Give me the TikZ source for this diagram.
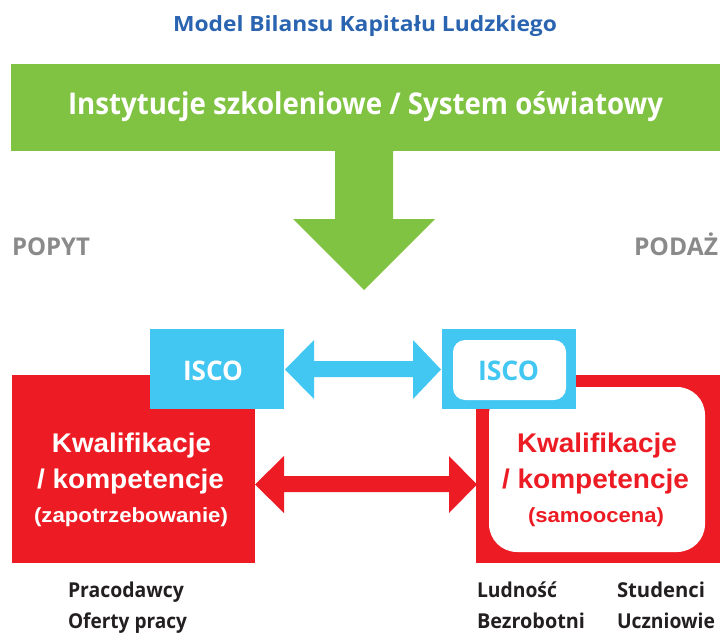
\documentclass[tikz,border=0pt]{standalone}
\usepackage{fontspec}
\usepackage{graphicx}
\newfontfamily\myr{Open Sans}
\newfontfamily\ari{Liberation Sans}
\newcommand{\fitw}[2]{\resizebox{#1}{\height}{#2}}
\definecolor{cgreen}{HTML}{80C242}
\definecolor{cblue}{HTML}{42C6F2}
\definecolor{cred}{HTML}{ED1C24}
\definecolor{ctitle}{HTML}{2A64B0}
\definecolor{cgray}{HTML}{8A8A8A}
\definecolor{cdark}{HTML}{231F20}
\tikzset{
  lbl/.style={inner sep=0pt, outer sep=0pt},
}
\begin{document}
\begin{tikzpicture}[x=1pt,y=-1pt]
\useasboundingbox (0,0) rectangle (720,642);
% title
\node[lbl, anchor=base west, text=ctitle] (title) at (173,32) {\fitw{384pt}{\myr\bfseries\fontsize{21}{24}\selectfont Model Bilansu Kapitału Ludzkiego}};
% green bar and arrow
\fill[cgreen] (11,64) rectangle (720,151);
\fill[cgreen] (335,150) -- (393,150) -- (393,219) -- (435,219) -- (364,290) -- (293,219) -- (335,219) -- cycle;
\node[lbl, anchor=base west, text=white] (inst) at (68,114) {\fitw{595pt}{\myr\bfseries\fontsize{30}{34}\selectfont Instytucje szkoleniowe / System oświatowy}};
% popyt / podaz
\node[lbl, anchor=base west, text=cgray] (popyt) at (12,255) {\fitw{78pt}{\myr\bfseries\fontsize{24.5}{28}\selectfont POPYT}};
\node[lbl, anchor=base east, text=cgray] (podaz) at (718,255) {\fitw{84pt}{\myr\bfseries\fontsize{24.5}{28}\selectfont PODAŻ}};
% red boxes
\fill[cred] (12,375) rectangle (255,563);
\fill[cred] (476,375) rectangle (720,563);
\fill[white, rounded corners=28pt] (489,387) rectangle (705,552);
% blue boxes
\fill[cblue] (150,329) rectangle (284,409);
\fill[cblue] (442,329) rectangle (576,409);
\fill[white, rounded corners=12pt] (453,340) rectangle (566,400);
% blue double arrow
\fill[cblue] (285,369.5) -- (314,340) -- (314,361) -- (413,361) -- (413,340) -- (441,369.5) -- (413,399) -- (413,377) -- (314,377) -- (314,399) -- cycle;
% red double arrow
\fill[cred] (255,484.5) -- (284,456) -- (284,476) -- (449,476) -- (449,456) -- (477,484.5) -- (449,513) -- (449,492) -- (284,492) -- (284,513) -- cycle;
% ISCO texts
\node[lbl, anchor=base west, text=white] (isco1) at (183,380) {\fitw{60pt}{\myr\bfseries\fontsize{27}{32}\selectfont ISCO}};
\node[lbl, anchor=base west, text=cblue] (isco2) at (478,380) {\fitw{61pt}{\myr\bfseries\fontsize{27}{32}\selectfont ISCO}};
% left red text
\node[lbl, anchor=base west, text=white] (k1) at (52,452) {\fitw{159pt}{\ari\bfseries\fontsize{27}{30}\selectfont Kwalifikacje}};
\node[lbl, anchor=base west, text=white] (k2) at (37,488) {\fitw{187pt}{\ari\bfseries\fontsize{27}{30}\selectfont / kompetencje}};
\node[lbl, anchor=base west, text=white] (k3) at (34,522) {\fitw{194pt}{\ari\bfseries\fontsize{20.5}{24}\selectfont (zapotrzebowanie)}};
% right red text
\node[lbl, anchor=base west, text=cred] (r1) at (517,452) {\fitw{160pt}{\ari\bfseries\fontsize{27}{30}\selectfont Kwalifikacje}};
\node[lbl, anchor=base west, text=cred] (r2) at (502,488) {\fitw{187pt}{\ari\bfseries\fontsize{27}{30}\selectfont / kompetencje}};
\node[lbl, anchor=base west, text=cred] (r3) at (528,522) {\fitw{136pt}{\ari\bfseries\fontsize{20.5}{24}\selectfont (samoocena)}};
% bottom labels
\node[lbl, anchor=base west, text=cdark] (b1) at (68,597) {\fitw{116pt}{\myr\bfseries\fontsize{20.5}{24}\selectfont Pracodawcy}};
\node[lbl, anchor=base west, text=cdark] (b2) at (68,628) {\fitw{119pt}{\myr\bfseries\fontsize{20.5}{24}\selectfont Oferty pracy}};
\node[lbl, anchor=base west, text=cdark] (b3) at (477,597) {\fitw{80pt}{\myr\bfseries\fontsize{20.5}{24}\selectfont Ludność}};
\node[lbl, anchor=base west, text=cdark] (b4) at (477,628) {\fitw{108pt}{\myr\bfseries\fontsize{20.5}{24}\selectfont Bezrobotni}};
\node[lbl, anchor=base west, text=cdark] (b5) at (617,597) {\fitw{88pt}{\myr\bfseries\fontsize{20.5}{24}\selectfont Studenci}};
\node[lbl, anchor=base west, text=cdark] (b6) at (617,628) {\fitw{98pt}{\myr\bfseries\fontsize{20.5}{24}\selectfont Uczniowie}};
\end{tikzpicture}
\end{document}
